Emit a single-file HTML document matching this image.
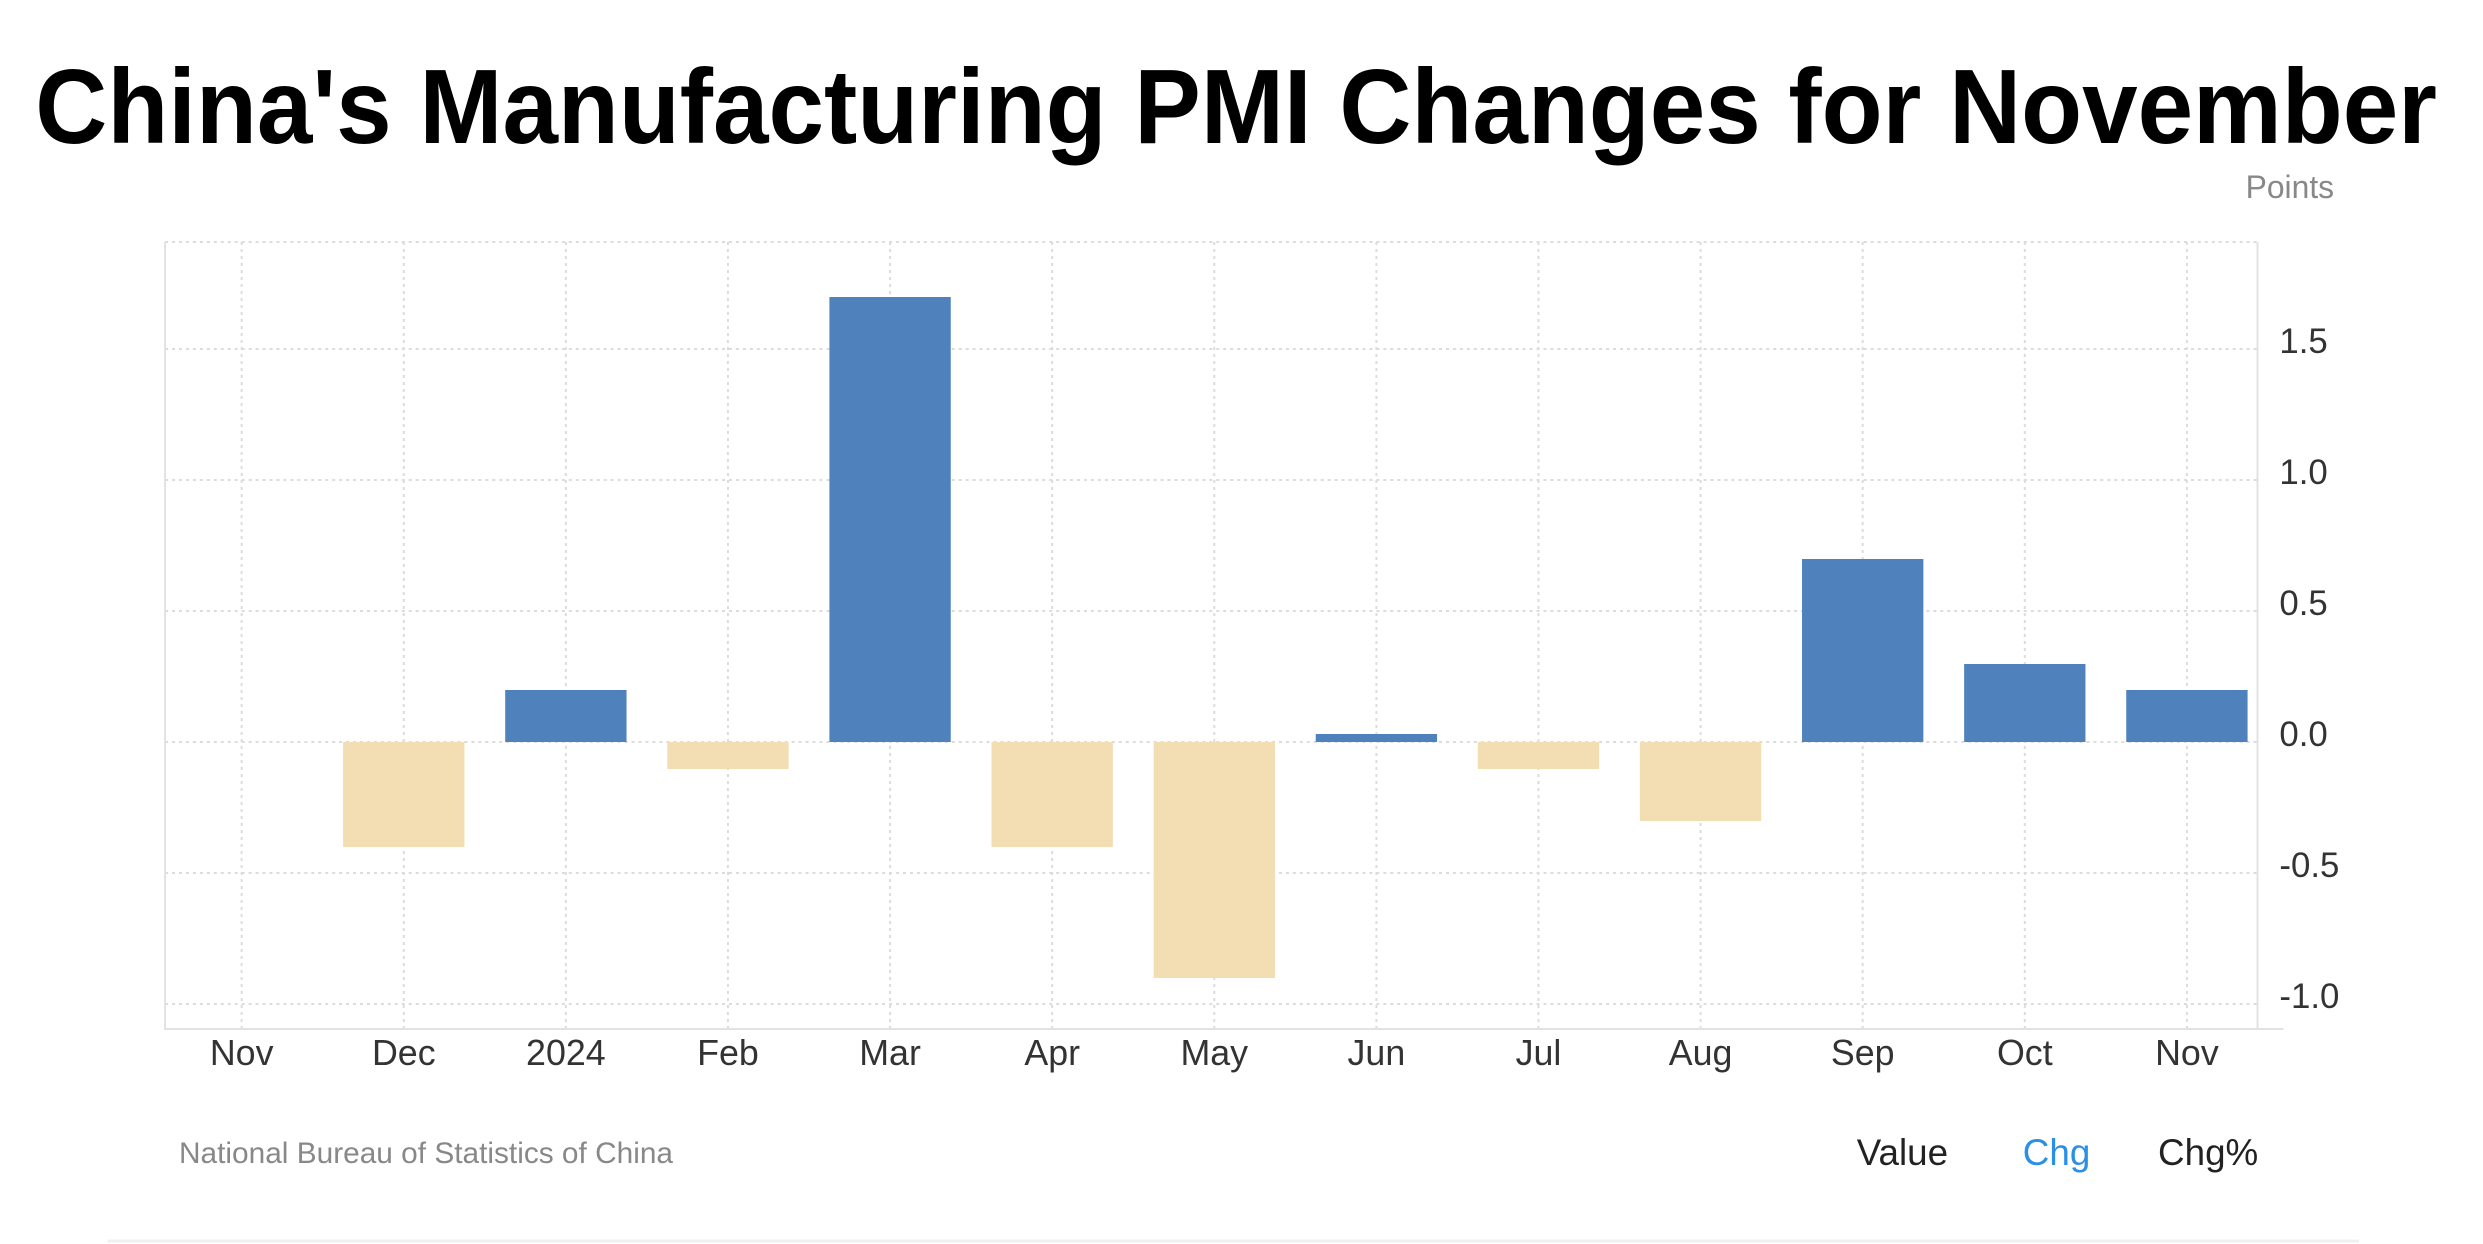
<!DOCTYPE html>
<html><head><meta charset="utf-8"><style>
html,body{margin:0;padding:0;background:#fff;}
svg{display:block;}
</style></head><body>
<svg width="2483" height="1244" xmlns="http://www.w3.org/2000/svg" font-family="Liberation Sans, Arial, sans-serif">
<rect width="2483" height="1244" fill="#fff"/>
<g transform="scale(0.9945,1)">
<text x="1243" y="143" text-anchor="middle" font-size="106" font-weight="bold" fill="#000" textLength="2415" lengthAdjust="spacingAndGlyphs">China's Manufacturing PMI Changes for November</text>
<text x="2347" y="198" text-anchor="end" font-size="32" fill="#888">Points</text>
<g stroke="#dcdcdc" stroke-width="2" stroke-dasharray="3,4">
<line x1="166" y1="242" x2="2270" y2="242"/>
<line x1="166" y1="349" x2="2270" y2="349"/>
<line x1="166" y1="480" x2="2270" y2="480"/>
<line x1="166" y1="611" x2="2270" y2="611"/>
<line x1="166" y1="742" x2="2270" y2="742"/>
<line x1="166" y1="873" x2="2270" y2="873"/>
<line x1="166" y1="1004" x2="2270" y2="1004"/>
<line x1="243" y1="242" x2="243" y2="1028"/>
<line x1="406" y1="242" x2="406" y2="1028"/>
<line x1="569" y1="242" x2="569" y2="1028"/>
<line x1="732" y1="242" x2="732" y2="1028"/>
<line x1="895" y1="242" x2="895" y2="1028"/>
<line x1="1058" y1="242" x2="1058" y2="1028"/>
<line x1="1221" y1="242" x2="1221" y2="1028"/>
<line x1="1384" y1="242" x2="1384" y2="1028"/>
<line x1="1547" y1="242" x2="1547" y2="1028"/>
<line x1="1710" y1="242" x2="1710" y2="1028"/>
<line x1="1873" y1="242" x2="1873" y2="1028"/>
<line x1="2036" y1="242" x2="2036" y2="1028"/>
<line x1="2199" y1="242" x2="2199" y2="1028"/>
</g>
<line x1="166" y1="242" x2="166" y2="1030" stroke="#e2e2e2" stroke-width="2"/>
<line x1="166" y1="1029" x2="2296" y2="1029" stroke="#e2e2e2" stroke-width="2"/>
<line x1="2270" y1="242" x2="2270" y2="1030" stroke="#e2e2e2" stroke-width="2"/>
<g>
<rect x="345" y="742" width="122" height="105" fill="#f3ddb3"/>
<rect x="508" y="690" width="122" height="52" fill="#4f81bd"/>
<rect x="671" y="742" width="122" height="27" fill="#f3ddb3"/>
<rect x="834" y="297" width="122" height="445" fill="#4f81bd"/>
<rect x="997" y="742" width="122" height="105" fill="#f3ddb3"/>
<rect x="1160" y="742" width="122" height="236" fill="#f3ddb3"/>
<rect x="1323" y="734" width="122" height="8" fill="#4f81bd"/>
<rect x="1486" y="742" width="122" height="27" fill="#f3ddb3"/>
<rect x="1649" y="742" width="122" height="79" fill="#f3ddb3"/>
<rect x="1812" y="559" width="122" height="183" fill="#4f81bd"/>
<rect x="1975" y="664" width="122" height="78" fill="#4f81bd"/>
<rect x="2138" y="690" width="122" height="52" fill="#4f81bd"/>
</g>
<g font-size="35" fill="#333">
<text x="2292" y="353">1.5</text>
<text x="2292" y="484">1.0</text>
<text x="2292" y="615">0.5</text>
<text x="2292" y="746">0.0</text>
<text x="2292" y="877">-0.5</text>
<text x="2292" y="1008">-1.0</text>
</g>
<g font-size="36" fill="#333" text-anchor="middle">
<text x="243" y="1065">Nov</text>
<text x="406" y="1065">Dec</text>
<text x="569" y="1065">2024</text>
<text x="732" y="1065">Feb</text>
<text x="895" y="1065">Mar</text>
<text x="1058" y="1065">Apr</text>
<text x="1221" y="1065">May</text>
<text x="1384" y="1065">Jun</text>
<text x="1547" y="1065">Jul</text>
<text x="1710" y="1065">Aug</text>
<text x="1873" y="1065">Sep</text>
<text x="2036" y="1065">Oct</text>
<text x="2199" y="1065">Nov</text>
</g>
<text x="180" y="1163" font-size="30" fill="#888">National Bureau of Statistics of China</text>
<text x="1867" y="1165" font-size="37" fill="#222">Value</text>
<text x="2034" y="1165" font-size="37" fill="#2a8fe6">Chg</text>
<text x="2170" y="1165" font-size="37" fill="#222">Chg%</text>
<line x1="108" y1="1241" x2="2372" y2="1241" stroke="#f0f0f0" stroke-width="3"/>
</g>
</svg>
</body></html>
